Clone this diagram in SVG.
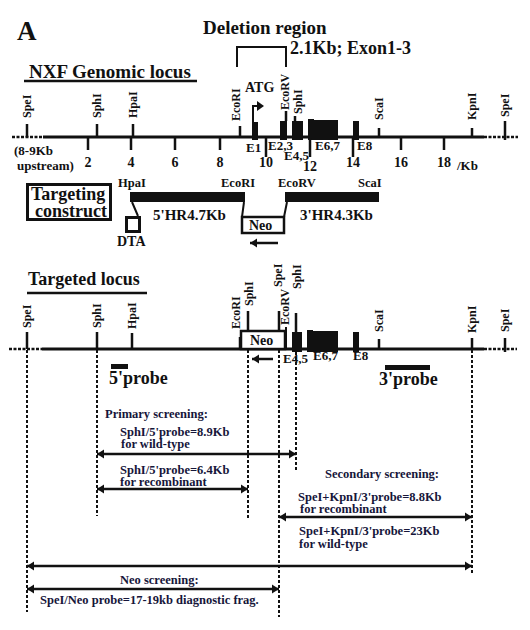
<svg xmlns="http://www.w3.org/2000/svg" width="530" height="630" viewBox="0 0 530 630">
<defs>
<style>
text { font-family: "Liberation Serif","Times New Roman",serif; font-weight: bold; fill: #111; }
.rl { font-size: 12px; }
.sm { font-size: 12.5px; fill: #16163a; }
.ex13 { font-size: 13px; }
.num { font-size: 14px; text-anchor: middle; }
.ln { stroke: #111; stroke-width: 3; fill: none; }
.tk { stroke: #111; stroke-width: 2.5; fill: none; }
.thin { stroke: #111; stroke-width: 2; fill: none; }
.dot { stroke: #111; stroke-width: 2; stroke-dasharray: 3 2; fill: none; }
.dash { stroke: #111; stroke-width: 2.5; stroke-dasharray: 3 1.5; fill: none; }
.blk { fill: #111; }
.box { fill: #fff; stroke: #111; }
.arr { stroke: #111; stroke-width: 2.5; fill: none; marker-start: url(#ah); marker-end: url(#ah); }
.arl { stroke: #111; stroke-width: 2.5; fill: none; marker-start: url(#ah); }
</style>
<marker id="ah" markerUnits="userSpaceOnUse" markerWidth="9" markerHeight="11" refX="7" refY="5" orient="auto-start-reverse">
<path d="M0,0.5 L7,5 L0,9.5 z" fill="#111"/>
</marker>
</defs>
<rect width="530" height="630" fill="#fff"/>

<g id="title">
<text x="17" y="40" font-size="27">A</text>
<text x="203" y="34" font-size="19">Deletion region</text>
<path class="thin" d="M237,67 V47 H286 V67"/>
<text x="290" y="54" font-size="18">2.1Kb; Exon1-3</text>
</g>

<g id="genomic-locus">
<text x="29" y="78" font-size="19">NXF Genomic locus</text>
<line class="tk" x1="24" y1="81" x2="197" y2="81"/>
<line class="ln" x1="43" y1="137" x2="484" y2="137"/>
<line class="dash" x1="12" y1="137" x2="43" y2="137"/>
<line class="dash" x1="484" y1="137" x2="518" y2="137"/>
<path class="tk" d="M27,124V137 M97,124V137 M133,124V137 M240,126V137 M379,128V137 M472,128V137 M505,121V140 M286,111V121 M295,116V121"/>
<text class="rl" transform="translate(31,118) rotate(-90)">SpeI</text>
<text class="rl" transform="translate(101,118) rotate(-90)">SphI</text>
<text class="rl" transform="translate(137,118) rotate(-90)">HpaI</text>
<text class="rl" transform="translate(240,121) rotate(-90)">EcoRI</text>
<text class="rl" transform="translate(289,110) rotate(-90)">EcoRV</text>
<text class="rl" transform="translate(302,114) rotate(-90)">SphI</text>
<text class="rl" transform="translate(383,120) rotate(-90)">ScaI</text>
<text class="rl" transform="translate(476,120) rotate(-90)">KpnI</text>
<text class="rl" transform="translate(509,117) rotate(-90)">SpeI</text>
<rect class="blk" x="252" y="122" width="6" height="18"/>
<rect class="blk" x="280" y="121" width="7" height="19"/>
<rect class="blk" x="292" y="121" width="11" height="19"/>
<rect class="blk" x="308" y="119" width="6" height="21"/>
<rect class="blk" x="314" y="120" width="24" height="20"/>
<rect class="blk" x="353" y="121" width="6" height="19"/>
<text x="245" y="92" font-size="14">ATG</text>
<path class="thin" d="M253,122 V106 H258"/>
<path class="blk" d="M257,101 L264,106 L257,111 z"/>
<path class="tk" d="M88,138V150 M131,138V150 M175,138V150 M220,138V150 M266,138V157 M310,138V157 M353,138V157 M401,138V150 M444,138V150"/>
<text class="num" x="88" y="167">2</text>
<text class="num" x="131" y="167">4</text>
<text class="num" x="175" y="167">6</text>
<text class="num" x="220" y="167">8</text>
<text class="num" x="266" y="167">10</text>
<text class="num" x="310" y="171">12</text>
<text class="num" x="353" y="167">14</text>
<text class="num" x="401" y="167">16</text>
<text class="num" x="444" y="167">18</text>
<text class="ex13" x="457" y="170">/Kb</text>
<text class="ex13" x="246" y="152">E1</text>
<text class="ex13" x="268" y="150">E2,3</text>
<text class="ex13" x="284" y="160">E4,5</text>
<text class="ex13" x="315" y="150">E6,7</text>
<text class="ex13" x="357" y="150">E8</text>
<text class="ex13" x="14" y="155">(8-9Kb</text>
<text class="ex13" x="17" y="170">upstream)</text>
</g>

<g id="targeting-construct">
<rect x="27.5" y="184.5" width="83" height="35" fill="none" stroke="#111" stroke-width="3"/>
<text x="31" y="200" font-size="18">Targeting</text>
<text x="35" y="217" font-size="18">construct</text>
<text x="118" y="187" font-size="12.5">HpaI</text>
<text x="221" y="187" font-size="12.5">EcoRI</text>
<text x="278" y="187" font-size="12.5">EcoRV</text>
<text x="358" y="187" font-size="12.5">ScaI</text>
<rect class="blk" x="130" y="192" width="115" height="10"/>
<rect class="blk" x="285" y="192" width="94" height="10"/>
<path class="thin" d="M132,202 L138,216 M244,202 L242,217 M284,217 L287,202"/>
<rect x="126.5" y="217.5" width="13" height="14" fill="none" stroke="#111" stroke-width="3"/>
<text x="117" y="246" font-size="14">DTA</text>
<rect class="box" x="242" y="217" width="42" height="16" stroke-width="2.5"/>
<text x="249" y="230" font-size="14">Neo</text>
<line class="arl" x1="250" y1="243" x2="278" y2="243"/>
<text x="153" y="220" font-size="15">5'HR4.7Kb</text>
<text x="300" y="220" font-size="15">3'HR4.3Kb</text>
</g>

<g id="targeted-locus">
<text x="28" y="285" font-size="18">Targeted locus</text>
<line class="tk" x1="27" y1="293" x2="147" y2="293"/>
<line class="ln" x1="42" y1="349" x2="484" y2="349"/>
<line class="dash" x1="9" y1="349" x2="42" y2="349"/>
<line class="dash" x1="484" y1="349" x2="517" y2="349"/>
<path class="tk" d="M27,332V349 M97,332V349 M132,333V349 M240,337V349 M248,311V331 M279,311V331 M296,313V332 M379,339V349 M472,338V349 M505,338V352"/>
<line class="thin" x1="286" y1="327" x2="286" y2="349"/>
<text class="rl" transform="translate(31,328) rotate(-90)">SpeI</text>
<text class="rl" transform="translate(101,328) rotate(-90)">SphI</text>
<text class="rl" transform="translate(136,329) rotate(-90)">HpaI</text>
<text class="rl" transform="translate(240,329) rotate(-90)">EcoRI</text>
<text class="rl" transform="translate(253,306) rotate(-90)">SphI</text>
<text class="rl" transform="translate(289,325) rotate(-90)">EcoRV</text>
<text class="rl" transform="translate(282,287) rotate(-90)">SpeI</text>
<text class="rl" transform="translate(301,289) rotate(-90)">SphI</text>
<text class="rl" transform="translate(383,332) rotate(-90)">ScaI</text>
<text class="rl" transform="translate(476,333) rotate(-90)">KpnI</text>
<text class="rl" transform="translate(509,332) rotate(-90)">SpeI</text>
<rect class="box" x="241" y="331" width="44" height="18" stroke-width="2.5"/>
<text x="250" y="345" font-size="14">Neo</text>
<line class="arl" x1="252" y1="359" x2="273" y2="359"/>
<rect class="blk" x="292" y="332" width="10" height="20"/>
<rect class="blk" x="307" y="330" width="6" height="22"/>
<rect class="blk" x="313" y="331" width="25" height="21"/>
<rect class="blk" x="353" y="332" width="6" height="20"/>
<text class="ex13" x="283" y="363">E4,5</text>
<text class="ex13" x="313" y="360">E6,7</text>
<text class="ex13" x="353" y="360">E8</text>
<rect class="blk" x="111" y="364" width="17" height="5"/>
<text x="109" y="384" font-size="18">5'probe</text>
<rect class="blk" x="385" y="365" width="45" height="5"/>
<text x="379" y="385" font-size="18">3'probe</text>
</g>

<g id="connectors">
<line class="dot" x1="27" y1="350" x2="27" y2="612"/>
<line class="dot" x1="97" y1="350" x2="97" y2="516"/>
<line class="dot" x1="248" y1="350" x2="248" y2="519"/>
<line class="dot" x1="279" y1="350" x2="279" y2="617"/>
<line class="dot" x1="296" y1="352" x2="296" y2="472"/>
<line class="dot" x1="472" y1="350" x2="472" y2="575"/>
<line class="arr" x1="97" y1="454" x2="296" y2="454"/>
<line class="arr" x1="97" y1="489" x2="248" y2="489"/>
<line class="arr" x1="279" y1="517" x2="472" y2="517"/>
<line class="arr" x1="27" y1="566" x2="472" y2="566"/>
<line class="arr" x1="27" y1="589" x2="279" y2="589"/>
</g>

<g id="screening-labels">
<text class="sm" x="105" y="418" font-size="12">Primary screening:</text>
<text class="sm" x="120" y="436">SphI/5'probe=8.9Kb</text>
<text class="sm" x="121" y="448">for wild-type</text>
<text class="sm" x="120" y="474">SphI/5'probe=6.4Kb</text>
<text class="sm" x="120" y="486">for recombinant</text>
<text class="sm" x="325" y="478">Secondary screening:</text>
<text class="sm" x="298" y="501">SpeI+KpnI/3'probe=8.8Kb</text>
<text class="sm" x="300" y="513">for recombinant</text>
<text class="sm" x="299" y="535">SpeI+KpnI/3'probe=23Kb</text>
<text class="sm" x="299" y="548">for wild-type</text>
<text class="sm" x="120" y="584">Neo screening:</text>
<text class="sm" x="40" y="604">SpeI/Neo probe=17-19kb diagnostic frag.</text>
</g>
</svg>
